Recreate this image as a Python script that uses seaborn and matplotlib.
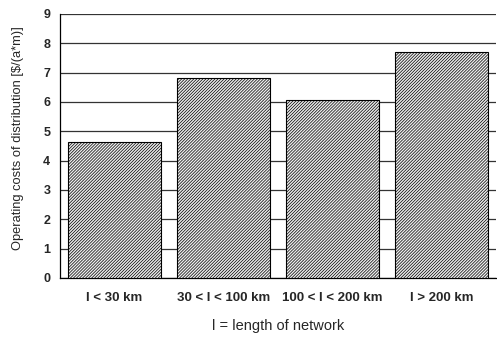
import numpy as np
import pandas as pd
import matplotlib
matplotlib.use('Agg')
import matplotlib.pyplot as plt
import seaborn as sns

categories = ['l < 30 km', '30 < l < 100 km', '100 < l < 200 km', 'l > 200 km']
costs = [4.62, 6.81, 6.07, 7.72]
y_ticks = list(range(0, 10))

df = pd.DataFrame({'category': categories, 'cost': costs})

sns.set_style('white')
plt.rcParams['font.family'] = ['Liberation Sans', 'DejaVu Sans']
plt.rcParams['hatch.linewidth'] = 0.5
plt.rcParams['hatch.color'] = '#5a5a5a'

fig = plt.figure(figsize=(4.97, 3.38), dpi=100)
ax = fig.add_axes([60 / 497, 1 - 278 / 338, 436 / 497, 264 / 338])

sns.barplot(data=df, x='category', y='cost', color='#ececec', width=0.85,
            edgecolor='black', linewidth=0.8, ax=ax, zorder=3)
for p in ax.patches:
    p.set_hatch('/' * 11)
    p.set_edgecolor('black')

ax.set_ylim(0, 9)
ax.set_yticks(y_ticks)
ax.set_xlim(-0.5, 3.5)
ax.grid(axis='y', color='#333333', linewidth=0.9, zorder=0)
ax.set_axisbelow(True)
for s in ['right', 'top']:
    ax.spines[s].set_visible(False)
ax.spines['left'].set_color('black')
ax.spines['bottom'].set_color('black')
ax.spines['left'].set_linewidth(0.9)
ax.spines['bottom'].set_linewidth(0.9)

ax.tick_params(axis='both', length=0, pad=7)
for lab in ax.get_yticklabels():
    lab.set_fontweight('bold')
    lab.set_fontsize(9)
for lab in ax.get_xticklabels():
    lab.set_fontweight('bold')
    lab.set_fontsize(9.5)
ax.tick_params(axis='x', pad=10)

ax.set_ylabel(r'Operating costs of distribution [\$/(a*m)]', fontsize=9.3)
ax.yaxis.set_label_coords(-0.082, 0.53)
ax.set_xlabel('l = length of network', fontsize=10.5, labelpad=11)

fig.savefig('out.png', dpi=100)
